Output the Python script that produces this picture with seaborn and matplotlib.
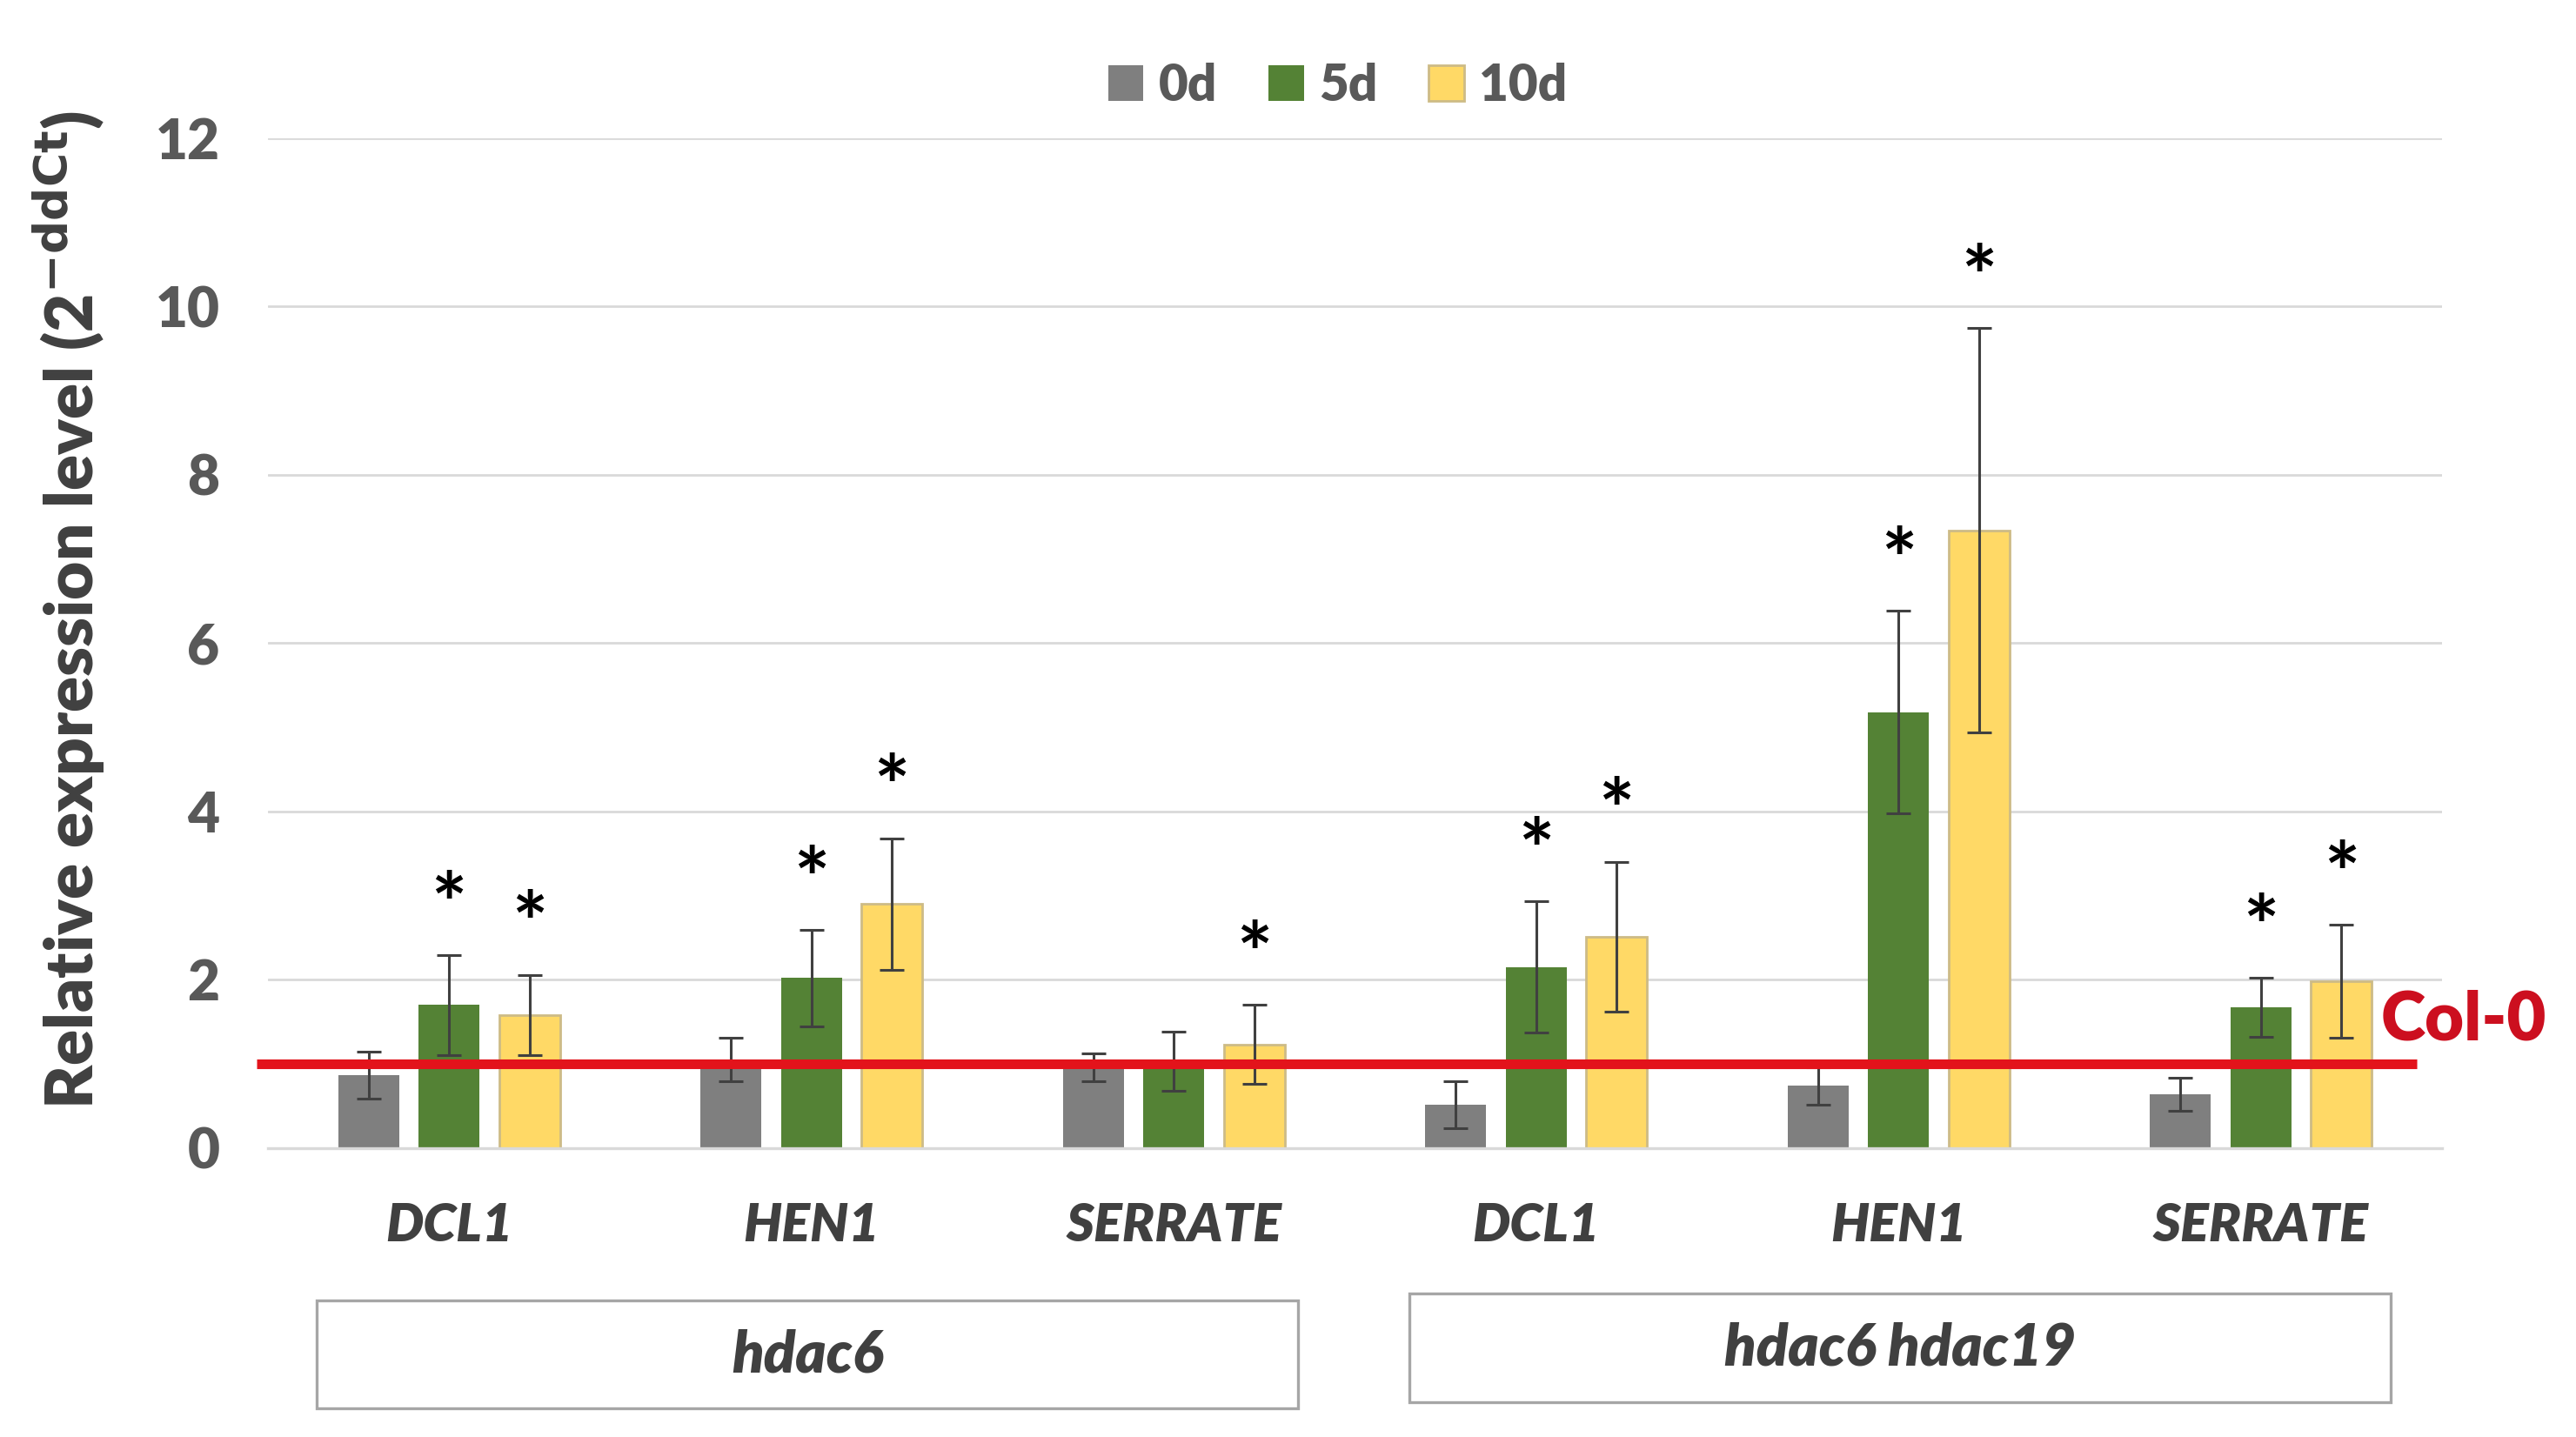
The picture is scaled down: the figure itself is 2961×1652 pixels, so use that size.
import matplotlib.pyplot as plt
import seaborn as sns
import pandas as pd
import numpy as np
from matplotlib.patches import Rectangle

# data
genes = ["DCL1", "HEN1", "SERRATE", "DCL1", "HEN1", "SERRATE"]
genotypes = ["hdac6", "hdac6", "hdac6", "hdac6 hdac19", "hdac6 hdac19", "hdac6 hdac19"]
times = ["0d", "5d", "10d"]
mean_0d = [0.87, 1.05, 0.96, 0.52, 0.74, 0.64]
err_0d = [0.28, 0.26, 0.17, 0.28, 0.22, 0.20]
mean_5d = [1.70, 2.02, 1.03, 2.15, 5.18, 1.67]
err_5d = [0.59, 0.57, 0.35, 0.78, 1.20, 0.35]
mean_10d = [1.58, 2.90, 1.23, 2.51, 7.34, 1.98]
err_10d = [0.48, 0.78, 0.47, 0.89, 2.40, 0.67]
sig_5d = [True, True, False, True, True, True]
sig_10d = [True, True, True, True, True, True]
col0_level = 1.0

colors = {"0d": "#7F7F7F", "5d": "#548235", "10d": "#FFD966"}
text_gray = "#595959"

sns.set_style("white")
plt.rcParams["font.family"] = ["Lato", "DejaVu Sans"]

keys = [f"{g}|{n}" for g, n in zip(genotypes, genes)]
means = {"0d": mean_0d, "5d": mean_5d, "10d": mean_10d}
errs = {"0d": err_0d, "5d": err_5d, "10d": err_10d}
sigs = {"0d": [False] * 6, "5d": sig_5d, "10d": sig_10d}

rows = []
for t in times:
    for k, m in zip(keys, means[t]):
        rows.append({"key": k, "time": t, "value": m})
df = pd.DataFrame(rows)

fig = plt.figure(figsize=(14.805, 8.26), dpi=200)
ax = fig.add_axes([0.104, 0.201, 0.844, 0.703])

sns.barplot(data=df, x="key", y="value", hue="time", order=keys, hue_order=times,
            palette=colors, saturation=1, width=0.666, gap=0.24, errorbar=None,
            legend=False, ax=ax)

# yellow bars have a light tan outline
for t, cont in zip(times, ax.containers):
    for bar in cont:
        if t == "10d":
            bar.set_edgecolor("#CDBB86")
            bar.set_linewidth(1.0)
        else:
            bar.set_edgecolor("none")

# error bars and significance stars
for t, cont in zip(times, ax.containers):
    xs = [b.get_x() + b.get_width() / 2 for b in cont]
    ax.errorbar(xs, means[t], yerr=errs[t], fmt="none", ecolor="#404040",
                elinewidth=1.1, capsize=5, capthick=1.1, zorder=4)
    for x, m, e, s in zip(xs, means[t], errs[t], sigs[t]):
        if s:
            ax.text(x, m + e + 0.55, "*", ha="center", va="center",
                    fontsize=35, fontweight="bold", color="black")

# Col-0 reference line
ax.plot([-0.53, 5.43], [col0_level, col0_level], color="#E3131B", lw=4,
        zorder=5, clip_on=False, solid_capstyle="butt")
ax.text(5.33, col0_level + 0.52, "Col-0", color="#CC0F1F", fontsize=28,
        fontweight="heavy", ha="left", va="center")

ax.set_ylim(0, 12)
ax.set_xlim(-0.5, 5.5)
ax.set_yticks(range(0, 13, 2))
ax.yaxis.grid(True, color="#D9D9D9", lw=1.0)
ax.set_axisbelow(True)
for side in ["top", "right", "left"]:
    ax.spines[side].set_visible(False)
ax.spines["bottom"].set_color("#D9D9D9")
ax.spines["bottom"].set_linewidth(1.2)
ax.tick_params(axis="y", length=0, pad=20, labelsize=23, labelcolor=text_gray)
ax.tick_params(axis="x", length=0, pad=22)
for lab in ax.get_yticklabels():
    lab.set_fontweight("heavy")
ax.set_xticks(range(len(genes)))
ax.set_xticklabels(genes, fontsize=22, fontweight="heavy", style="italic", color="#404040")
ax.set_xlabel("")
ax.set_ylabel("Relative expression level (2$^{\\mathbf{-ddCt}}$)", fontsize=27.5,
              fontweight="heavy", color="#404040")
ax.yaxis.set_label_coords(-0.074, 0.533)

# legend on top
handles = [Rectangle((0, 0), 1, 1, facecolor=colors[t],
                     edgecolor="#CDBB86" if t == "10d" else "none") for t in times]
leg = ax.legend(handles, times, loc="center", bbox_to_anchor=(0.492, 1.052), ncol=3,
                frameon=False, fontsize=21, handlelength=0.7, handleheight=0.7,
                handletextpad=0.3, columnspacing=1.0)
for txt in leg.get_texts():
    txt.set_color(text_gray)
    txt.set_fontweight("heavy")

# genotype boxes below the gene labels
group_names = ["hdac6", "hdac6 hdac19"]
box_spans = [(0.123, 0.504, 0.020, 0.095), (0.547, 0.928, 0.024, 0.100)]
for name, (x0, x1, y0, y1) in zip(group_names, box_spans):
    fig.patches.append(Rectangle((x0, y0), x1 - x0, y1 - y0, transform=fig.transFigure,
                                 facecolor="white", edgecolor="#A6A6A6", lw=1.2))
    fig.text((x0 + x1) / 2, (y0 + y1) / 2, name, ha="center", va="center",
             fontsize=24, fontweight="heavy", style="italic", color="#404040")

fig.savefig("out.png", dpi=200)
